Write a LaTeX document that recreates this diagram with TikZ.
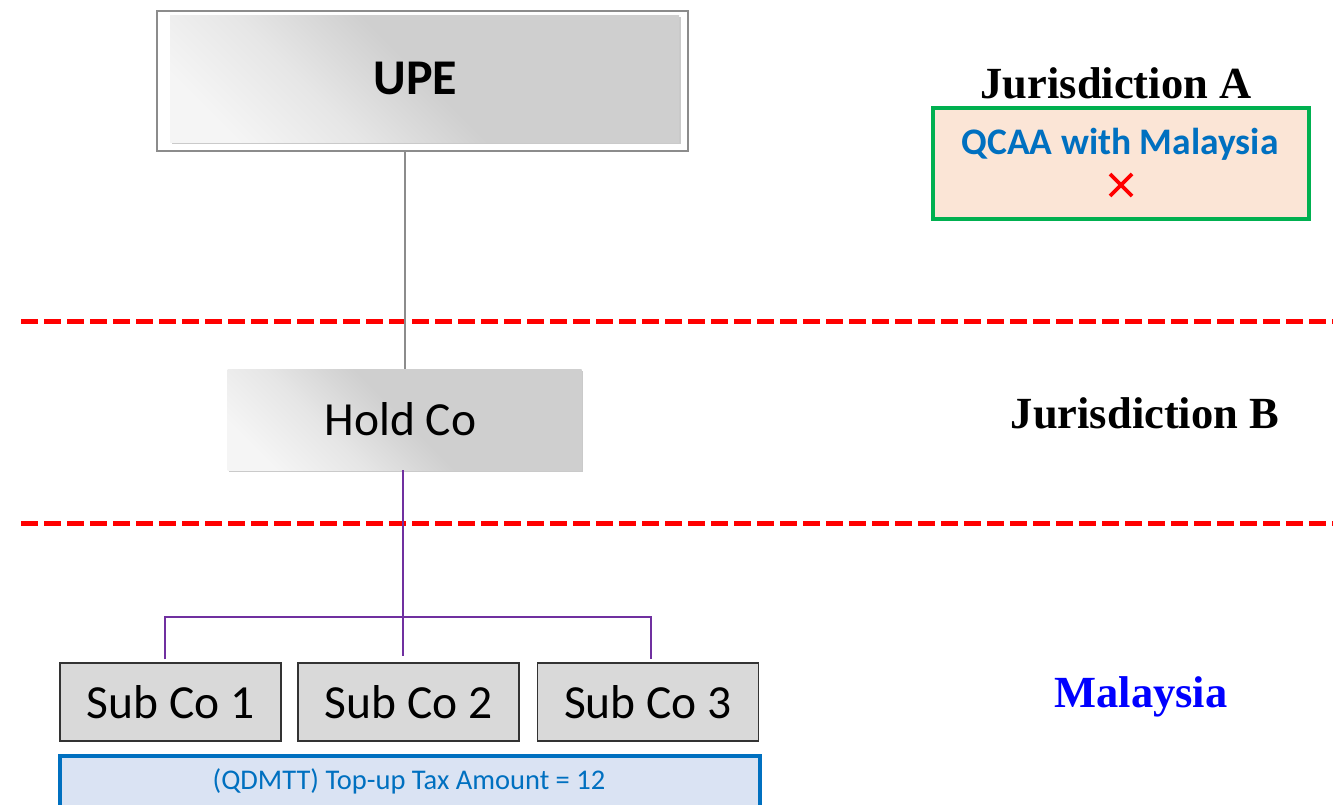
\documentclass[tikz,border=0pt]{standalone}
\usepackage{fontspec}
\setmainfont{Carlito}
\newfontfamily\jfont{Liberation Serif}
\usetikzlibrary{shadows}
\definecolor{redline}{HTML}{FF0000}
\definecolor{msblue}{HTML}{0070C0}
\definecolor{greenb}{HTML}{00B050}
\definecolor{peach}{HTML}{FBE5D6}
\definecolor{lightblue}{HTML}{DAE3F3}
\definecolor{subfill}{HTML}{D9D9D9}
\definecolor{purp}{HTML}{7030A0}
\definecolor{frame}{HTML}{8C8C8C}
\definecolor{gA}{HTML}{F5F5F5}
\definecolor{gM}{HTML}{E6E6E6}
\definecolor{gB}{HTML}{CFCFCF}
\pgfdeclarehorizontalshading{boxshade}{100bp}{color(0bp)=(gA); color(22bp)=(gA); color(36bp)=(gM); color(50bp)=(gB); color(100bp)=(gB)}
\tikzset{
  shadedbox/.style={shading=boxshade, shading angle=45, minimum width=#1, inner sep=0pt,
    drop shadow={shadow xshift=1.5pt, shadow yshift=-2pt, opacity=0.35, fill=black!60}},
  subbox/.style={draw=black!80, line width=1.3pt, fill=subfill, minimum width=221pt, minimum height=78pt, inner sep=0pt,
    font=\fontsize{47.5}{52}\selectfont},
  dline/.style={draw=redline, line width=5pt, dash pattern=on 17pt off 6pt},
  purpline/.style={draw=purp, line width=1.4pt},
  jlabel/.style={font=\jfont\bfseries\fontsize{44.5}{50}\selectfont},
}
\begin{document}
\begin{tikzpicture}[x=1pt,y=-1pt]
\useasboundingbox (0,0) rectangle (1333,804);
% dashed separators
\coordinate (d1l) at (21,321); \coordinate (d1r) at (1340,321);
\coordinate (d2l) at (21,523); \coordinate (d2r) at (1340,523);
\draw[dline] (d1l) -- (d1r);
\draw[dline] (d2l) -- (d2r);
% UPE
\node[draw=frame, line width=1.2pt, minimum width=531pt, minimum height=140pt, inner sep=0pt] (upeframe) at (422.5,81) {};
\node[shadedbox=509pt, minimum height=127pt,
  label={[xshift=-9pt, font=\bfseries\fontsize{50}{56}\selectfont]center:UPE}] (upe) at (424.5,78.5) {};
% Hold Co
\node[shadedbox=354pt, minimum height=101pt,
  label={[xshift=-4pt, font=\fontsize{47.5}{52}\selectfont]center:Hold Co}] (hold) at (404.5,419.5) {};
\draw[draw=black!45, line width=1.3pt] (upeframe.south -| 405,0) -- (hold.north -| 405,0);
% Sub Cos
\node[subbox] (sub1) at (170.5,702) {Sub Co 1};
\node[subbox] (sub2) at (408.5,702) {Sub Co 2};
\node[subbox] (sub3) at (648,702) {Sub Co 3};
\coordinate (bl) at (165,617);
\coordinate (bm) at (403,617);
\coordinate (br) at (651,617);
\draw[purpline] (hold.south -| bm) -- (bm) -- ([yshift=6pt]sub2.north -| bm);
\draw[purpline] ([yshift=3pt]sub1.north -| bl) -- (bl) -- (br) -- ([yshift=3pt]sub3.north -| br);
% QDMTT box
\node[draw=msblue, line width=4pt, fill=lightblue, minimum width=700pt, minimum height=56pt, inner sep=0pt, anchor=north] (qdmtt) at (410,754) {};
\node[text=msblue, font=\fontsize{28.5}{32}\selectfont] (qtext) at (409,781) {(QDMTT) Top-up Tax Amount = 12};
% Jurisdiction A
\node[jlabel] (ja) at (1116,83) {Jurisdiction A};
\node[draw=greenb, line width=4pt, fill=peach, minimum width=376pt, minimum height=111pt, inner sep=0pt] (qcaa) at (1121,163.5) {};
\node[text=msblue, font=\bfseries\fontsize{37.5}{42}\selectfont] (qcaat) at (1120,144) {QCAA with Malaysia};
\coordinate (x1) at (1110,174); \coordinate (x2) at (1132,196);
\coordinate (x3) at (1132,174); \coordinate (x4) at (1110,196);
\draw[redline, line width=3.6pt] (x1) -- (x2);
\draw[redline, line width=3.6pt] (x3) -- (x4);
% Jurisdiction B
\node[jlabel] (jb) at (1145,413) {Jurisdiction B};
% Malaysia
\node[jlabel, text=blue] (my) at (1141,697) {Malaysia};
\end{tikzpicture}
\end{document}
